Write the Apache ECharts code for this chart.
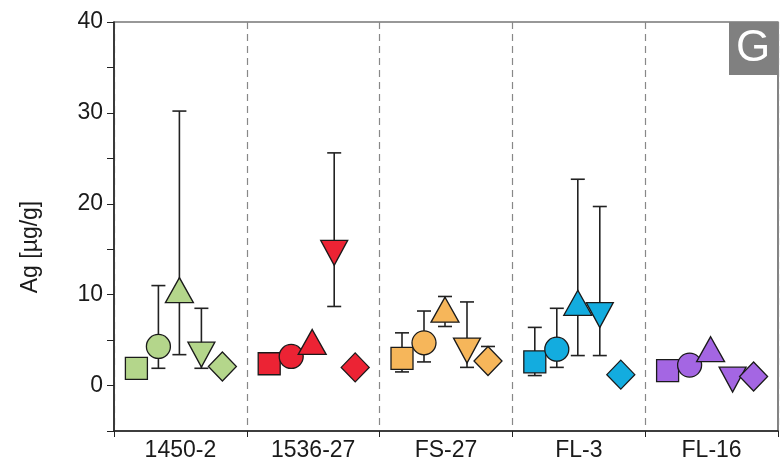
<!DOCTYPE html>
<html>
<head>
<meta charset="utf-8">
<script src="https://cdn.jsdelivr.net/npm/echarts@6/dist/echarts.min.js"></script>
<style>
  html, body { margin: 0; padding: 0; background: #fff; }
  #agChart { width: 780px; height: 465px; }
</style>
</head>
<body>
<div id="agChart"></div>
<script>
// sample sites and their colours
const sites = ['1450-2', '1536-27', 'FS-27', 'FL-3', 'FL-16'];
const siteColors = ['#b4d68b', '#ec2334', '#f6b65a', '#13acdf', '#a466e3'];

// Ag [µg/g] per site, one set per marker shape (null = no error bar)
const squareMean = [1.9, 2.4, 3.0, 2.6, 1.65];
const squareLow = [null, null, 1.5, 1.1, null];
const squareHigh = [null, null, 5.8, 6.4, null];

const circleMean = [4.3, 3.2, 4.7, 4.0, 2.25];
const circleLow = [1.9, null, 2.6, 2.0, null];
const circleHigh = [11.0, null, 8.2, 8.5, null];

const triMean = [10.5, 4.8, 8.35, 9.1, 4.0];
const triLow = [3.4, null, 6.5, 3.3, null];
const triHigh = [30.2, null, 9.8, 22.7, null];

const downMean = [3.4, 14.6, 3.85, 7.75, 0.65];
const downLow = [1.9, 8.7, 2.0, 3.3, null];
const downHigh = [8.5, 25.6, 9.2, 19.7, null];

const diamondMean = [2.1, 2.0, 2.7, 1.2, 1.0];
const diamondLow = [null, null, null, null, null];
const diamondHigh = [null, null, 4.3, null, null];

const yTicks = [0, 10, 20, 30, 40];

var chartDom = document.getElementById('agChart');
var chart = echarts.init(chartDom);

// marker look, in the order they sit inside each site column
const shapes = [
    { mean: squareMean, low: squareLow, high: squareHigh, symbol: 'rect', size: 22, dx: -44 },
    { mean: circleMean, low: circleLow, high: circleHigh, symbol: 'circle', size: 24, dx: -22 },
    { mean: triMean, low: triLow, high: triHigh, symbol: 'triangle', size: [28, 25], dx: -1 },
    { mean: downMean, low: downLow, high: downHigh, symbol: 'path://M0,0L2,0L1,2Z', size: [27, 25], dx: 21 },
    { mean: diamondMean, low: diamondLow, high: diamondHigh, symbol: 'diamond', size: [28, 29], dx: 42 }
];

var series = [];
shapes.forEach((s) => {
    var bars = [];
    s.mean.forEach((m, i) => {
        if (s.high[i] != null) {
            bars.push([i, s.low[i] != null ? s.low[i] : m, s.high[i]]);
        }
    });
    series.push({
        type: 'custom',
        z: 1,
        silent: true,
        data: bars,
        renderItem: (params, api) => {
            var lo = api.coord([api.value(0), api.value(1)]);
            var hi = api.coord([api.value(0), api.value(2)]);
            var x = lo[0] + s.dx;
            var cap = 7;
            var style = { stroke: '#222', lineWidth: 1.6 };
            return {
                type: 'group',
                children: [
                    { type: 'line', shape: { x1: x, y1: lo[1], x2: x, y2: hi[1] }, style: style },
                    { type: 'line', shape: { x1: x - cap, y1: hi[1], x2: x + cap, y2: hi[1] }, style: style },
                    { type: 'line', shape: { x1: x - cap, y1: lo[1], x2: x + cap, y2: lo[1] }, style: style }
                ]
            };
        }
    });
    series.push({
        type: 'scatter',
        z: 2,
        symbol: s.symbol,
        symbolSize: s.size,
        symbolOffset: [s.dx, 0],
        data: s.mean.map((m, i) => ({
            value: [i, m],
            itemStyle: { color: siteColors[i] }
        })),
        itemStyle: { borderColor: '#1a1a1a', borderWidth: 1.3, opacity: 1 }
    });
});

var option = {
    animation: false,
    grid: {
        left: 114, right: 2, top: 22, bottom: 34,
        show: true, borderColor: '#333', borderWidth: 1.2
    },
    xAxis: {
        type: 'category',
        data: sites,
        boundaryGap: true,
        axisLine: { onZero: false, lineStyle: { color: '#222', width: 1.5 } },
        axisTick: { show: true, alignWithLabel: false, length: 6, lineStyle: { color: '#222' } },
        axisLabel: {
            color: '#1a1a1a', fontSize: 23, margin: 8,
            fontFamily: 'Liberation Sans, Arial, sans-serif'
        },
        splitLine: { show: true, lineStyle: { color: '#888', type: [7, 5], width: 1.2 } }
    },
    yAxis: {
        type: 'value',
        min: -5,
        max: 40,
        interval: 5,
        axisLine: { show: true, lineStyle: { color: '#222', width: 1.5 } },
        axisTick: { show: true, length: 7, lineStyle: { color: '#222' } },
        axisLabel: {
            color: '#1a1a1a', fontSize: 23, margin: 11,
            fontFamily: 'Liberation Sans, Arial, sans-serif',
            formatter: (v) => yTicks.indexOf(v) >= 0 ? String(v) : ''
        },
        splitLine: { show: false }
    },
    graphic: [
        {
            type: 'text',
            x: 31, y: 247,
            rotation: Math.PI / 2,
            style: {
                text: 'Ag [µg/g]',
                fontSize: 23,
                fontFamily: 'Liberation Sans, Arial, sans-serif',
                fill: '#1a1a1a',
                align: 'center',
                verticalAlign: 'middle'
            }
        },
        {
            type: 'rect',
            left: 729, top: 22,
            shape: { width: 49, height: 53 },
            style: { fill: '#808080' },
            z: 10
        },
        {
            type: 'text',
            x: 753, y: 49,
            style: {
                text: 'G',
                fontSize: 44,
                fontFamily: 'Liberation Sans, Arial, sans-serif',
                fill: '#fff',
                align: 'center',
                verticalAlign: 'middle'
            },
            z: 11
        }
    ],
    series: series
};
chart.setOption(option);

const resizeObserver = new ResizeObserver(() => {
    chart.resize();
});
resizeObserver.observe(chartDom);
</script>
</body>
</html>
